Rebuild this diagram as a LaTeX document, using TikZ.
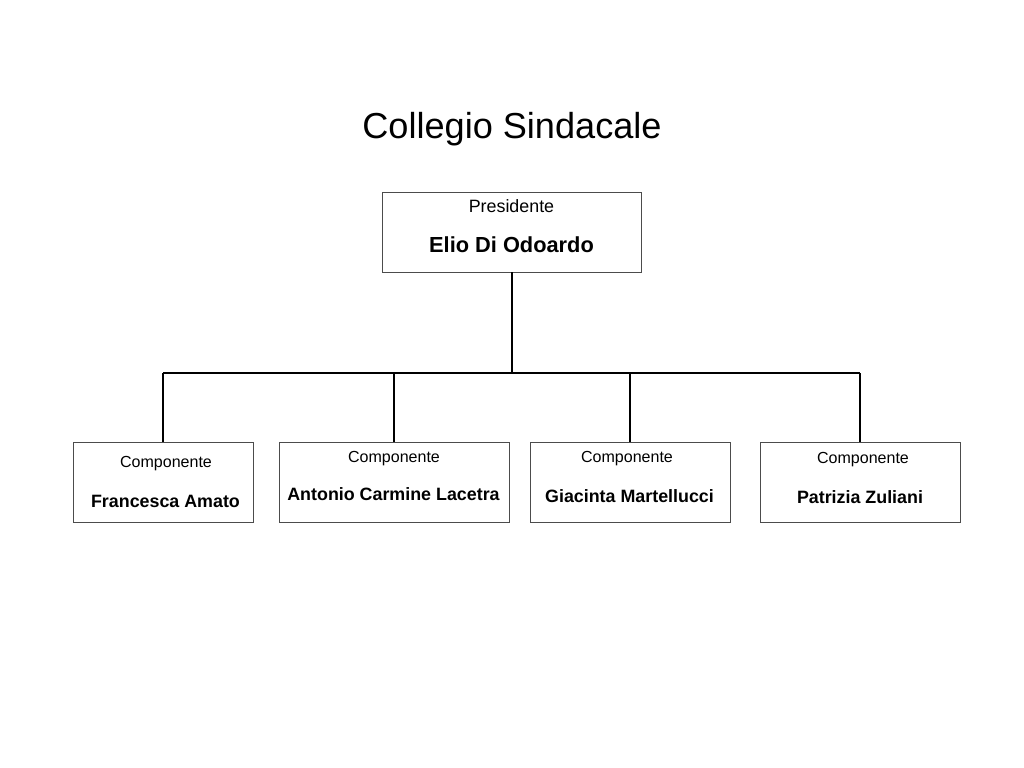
\documentclass[tikz,border=0pt]{standalone}
\usepackage{fontspec}
\setmainfont{Liberation Sans}
\usetikzlibrary{positioning}

\begin{document}
\begin{tikzpicture}
        \tikzset{
            member/.style={
                draw=black!70,
                fill=white,
                line width=0.7pt,
                minimum height=2cm,
                inner sep=0pt
            },
            rolelabel/.style={
                anchor=base,
                inner sep=0pt,
                font=\fontsize{11.4}{14}\selectfont
            },
            namelabel/.style={
                anchor=base,
                inner sep=0pt,
                font=\bfseries\fontsize{12.7}{15}\selectfont
            },
            orgline/.style={
                draw=black,
                line width=1.4pt
            }
        }
        \useasboundingbox (0,0) rectangle (25.6,-19.2);

        \node[anchor=base,inner sep=0pt,font=\fontsize{25.7}{30}\selectfont]
            (title) at (12.8,-3.475) {Collegio Sindacale};

        \node[member,minimum width=6.475cm] (president) at (12.7875,-5.8) {};
        \node[rolelabel,font=\fontsize{12.7}{15}\selectfont]
            (presrole) at (12.7875,-5.325) {Presidente};
        \node[namelabel,font=\bfseries\fontsize{15.5}{18}\selectfont]
            (presname) at (12.7875,-6.3) {Elio Di Odoardo};

        \node[member,minimum width=4.5cm] (amato) at (4.075,-12.05) {};
        \node[rolelabel] (amatorole) at (4.15,-11.675) {Componente};
        \node[namelabel] (amatoname) at (4.1375,-12.675) {Francesca Amato};

        \node[member,minimum width=5.75cm] (lacetra) at (9.85,-12.05) {};
        \node[rolelabel] (lacetrarole) at (9.85,-11.55) {Componente};
        \node[namelabel] (lacetraname) at (9.8375,-12.5) {Antonio Carmine Lacetra};

        \node[member,minimum width=5cm] (martellucci) at (15.75,-12.05) {};
        \node[rolelabel] (martelluccirole) at (15.675,-11.55) {Componente};
        \node[namelabel] (martelluccname) at (15.7375,-12.55) {Giacinta Martellucci};

        \node[member,minimum width=5cm] (zuliani) at (21.5,-12.05) {};
        \node[rolelabel] (zulianirole) at (21.575,-11.575) {Componente};
        \node[namelabel] (zulianiname) at (21.5,-12.575) {Patrizia Zuliani};

        \coordinate (bus) at (12.8,-9.325);

        \draw[orgline] (bus |- president.south) -- (bus);
        \draw[orgline] (amato.north |- bus) -- (zuliani.north |- bus);
        \draw[orgline] (amato.north) -- (amato.north |- bus);
        \draw[orgline] (lacetra.north) -- (lacetra.north |- bus);
        \draw[orgline] (martellucci.north) -- (martellucci.north |- bus);
        \draw[orgline] (zuliani.north) -- (zuliani.north |- bus);
    \end{tikzpicture}
\end{document}
